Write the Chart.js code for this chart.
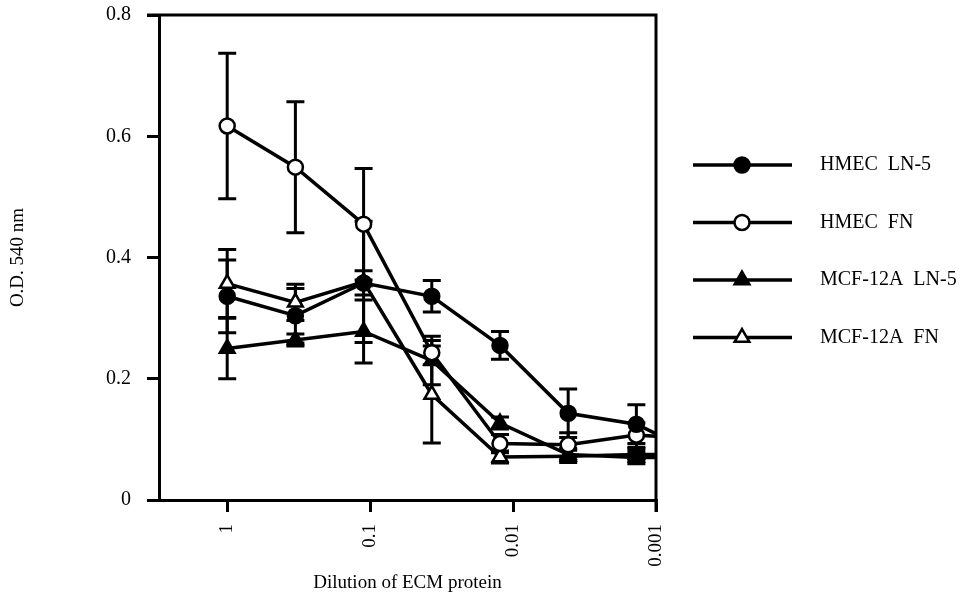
<!DOCTYPE html>
<html>
<head>
<meta charset="utf-8">
<script src="https://cdn.jsdelivr.net/npm/chart.js@4.4.0/dist/chart.umd.min.js"></script>
<style>
  html, body { margin: 0; padding: 0; background: #fff; }
  #wrap { width: 974px; height: 602px; }
</style>
</head>
<body>
<div id="wrap"><canvas id="chart" width="974" height="602"></canvas></div>
<script>
// threefold dilutions of the ECM protein (last one falls just past the axis)
const dilutions = [1, 1/3, 1/9, 1/27, 1/81, 1/243, 1/729, 1/2187];
const xTicks = [1, 0.1, 0.01, 0.001];
const xTickLabels = ['1', '0.1', '0.01', '0.001'];
const yTickLabels = ['0', '0.2', '0.4', '0.6', '0.8'];

const seriesNames = ['HMEC  LN-5', 'HMEC  FN', 'MCF-12A  LN-5', 'MCF-12A  FN'];

const hmecLn5 = [0.336, 0.304, 0.358, 0.336, 0.255, 0.143, 0.125, 0.07];
const hmecFn = [0.617, 0.549, 0.455, 0.243, 0.093, 0.091, 0.107, 0.10];
const mcfLn5 = [0.250, 0.264, 0.278, 0.230, 0.127, 0.075, 0.070, 0.070];
const mcfFn = [0.357, 0.326, 0.360, 0.174, 0.071, 0.072, 0.075, 0.075];

const hmecLn5Err = [0.060, 0.045, 0.020, 0.026, 0.023, 0.040, 0.032, null];
const hmecFnErr = [0.120, 0.108, 0.092, 0.020, 0.015, 0.020, 0.020, null];
const mcfLn5Err = [0.050, 0.010, 0.052, 0.040, 0.010, 0.010, 0.010, null];
const mcfFnErr = [0.056, 0.030, 0.100, 0.080, 0.010, 0.010, 0.010, null];

const serif = '"Liberation Serif", "Times New Roman", serif';

function makeSet(name, values, errs, style, filled) {
    return {
        label: name,
        data: dilutions.map((d, i) => ({ x: d, y: values[i] })),
        errors: errs,
        borderColor: '#000',
        borderWidth: 3.5,
        pointStyle: style,
        pointRadius: style === 'triangle' ? 8.5 : 7.5,
        pointBorderWidth: 2.5,
        pointBackgroundColor: filled ? '#000' : '#fff',
        pointBorderColor: '#000',
        tension: 0,
        fill: false
    };
}

const errorBars = {
    id: 'errorBars',
    beforeDatasetsDraw(chart) {
        const ctx = chart.ctx;
        const xs = chart.scales.x, ys = chart.scales.y;
        const area = chart.chartArea;
        ctx.save();
        ctx.strokeStyle = '#000';
        ctx.lineWidth = 3;
        chart.data.datasets.forEach(ds => {
            ds.data.forEach((p, i) => {
                const e = ds.errors[i];
                if (e == null) return;
                const x = xs.getPixelForValue(p.x);
                if (x > area.right) return;
                const top = ys.getPixelForValue(p.y + e);
                const bot = ys.getPixelForValue(p.y - e);
                ctx.beginPath();
                ctx.moveTo(x, top); ctx.lineTo(x, bot);
                ctx.moveTo(x - 9, top); ctx.lineTo(x + 9, top);
                ctx.moveTo(x - 9, bot); ctx.lineTo(x + 9, bot);
                ctx.stroke();
            });
        });
        ctx.restore();
    }
};

const frameAndLegend = {
    id: 'frameAndLegend',
    afterDraw(chart) {
        const ctx = chart.ctx;
        const a = chart.chartArea;
        ctx.save();
        ctx.strokeStyle = '#000';
        ctx.lineWidth = 3;
        ctx.beginPath();
        ctx.moveTo(a.left - 12, a.top);
        ctx.lineTo(a.right, a.top);
        ctx.lineTo(a.right, a.bottom + 12);
        ctx.stroke();

        // legend: line with marker, label to the right
        ctx.font = '20px ' + serif;
        ctx.textBaseline = 'middle';
        chart.data.datasets.forEach((ds, i) => {
            const y = 165 + i * 57.5;
            ctx.strokeStyle = '#000';
            ctx.lineWidth = 3.5;
            ctx.beginPath();
            ctx.moveTo(693, y); ctx.lineTo(792, y);
            ctx.stroke();
            ctx.fillStyle = ds.pointBackgroundColor;
            ctx.strokeStyle = '#000';
            ctx.lineWidth = ds.pointBorderWidth;
            Chart.helpers.drawPoint(ctx, {
                pointStyle: ds.pointStyle,
                radius: ds.pointRadius,
                borderWidth: ds.pointBorderWidth,
                rotation: 0
            }, 742, y);
            ctx.fillStyle = '#000';
            ctx.fillText(ds.label, 820, y);
        });
        ctx.restore();
    }
};

new Chart(document.getElementById('chart').getContext('2d'), {
    type: 'line',
    data: {
        datasets: [
            makeSet(seriesNames[0], hmecLn5, hmecLn5Err, 'circle', true),
            makeSet(seriesNames[1], hmecFn, hmecFnErr, 'circle', false),
            makeSet(seriesNames[2], mcfLn5, mcfLn5Err, 'triangle', true),
            makeSet(seriesNames[3], mcfFn, mcfFnErr, 'triangle', false)
        ]
    },
    options: {
        responsive: false,
        animation: false,
        layout: { padding: { left: 0, right: 318, top: 15, bottom: 0 } },
        plugins: { legend: { display: false }, tooltip: { enabled: false } },
        scales: {
            x: {
                type: 'logarithmic',
                reverse: true,
                min: 0.001,
                max: 3,
                afterBuildTicks: scale => { scale.ticks = xTicks.map(v => ({ value: v })); },
                afterFit: scale => {
                    scale.height = 102;
                    scale.paddingTop = 0;
                    scale.paddingRight = 0;
                },
                border: { color: '#000', width: 3 },
                grid: { drawOnChartArea: false, color: '#000', lineWidth: 3, tickLength: 12 },
                ticks: {
                    color: '#000',
                    font: { family: serif, size: 19 },
                    minRotation: 90,
                    maxRotation: 90,
                    padding: 12,
                    autoSkip: false,
                    callback: v => xTickLabels[xTicks.indexOf(v)]
                },
                title: {
                    display: true,
                    text: 'Dilution of ECM protein',
                    color: '#000',
                    font: { family: serif, size: 19 },
                    padding: { top: 4, bottom: 8 }
                }
            },
            y: {
                min: 0,
                max: 0.8,
                afterFit: scale => {
                    scale.width = 159;
                    scale.paddingTop = 0;
                    scale.paddingBottom = 0;
                },
                border: { color: '#000', width: 3 },
                grid: { drawOnChartArea: false, color: '#000', lineWidth: 3, tickLength: 12 },
                ticks: {
                    stepSize: 0.2,
                    color: '#000',
                    font: { family: serif, size: 20 },
                    padding: 16,
                    callback: (v, i) => yTickLabels[i]
                },
                title: {
                    display: true,
                    text: 'O.D. 540 nm',
                    color: '#000',
                    font: { family: serif, size: 19 },
                    padding: { top: 7, bottom: 0 }
                }
            }
        }
    },
    plugins: [errorBars, frameAndLegend]
});
</script>
</body>
</html>
